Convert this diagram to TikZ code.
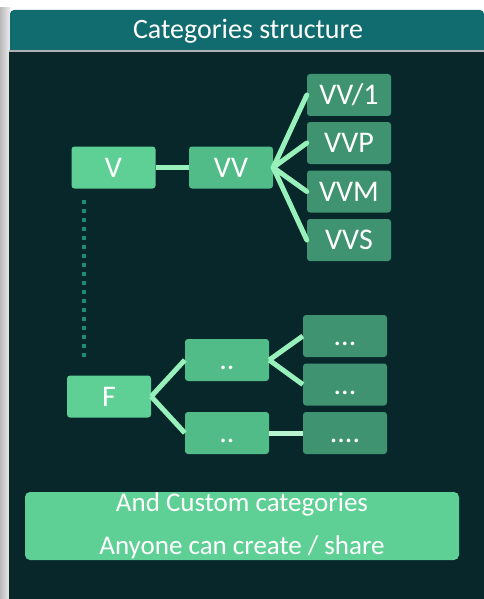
\documentclass[tikz,border=0pt]{standalone}
\usepackage{fontspec}
\setmainfont{Carlito}
\usetikzlibrary{shadings}
\definecolor{panel}{HTML}{07272B}
\definecolor{titlebar}{HTML}{116C6F}
\definecolor{light}{HTML}{5FD095}
\definecolor{mid}{HTML}{52BC88}
\definecolor{deep}{HTML}{3F9370}
\definecolor{link}{HTML}{98F0BA}
\definecolor{dotline}{HTML}{1E8C72}
\newcommand{\dotlabel}[1]{\vphantom{V}#1}
\tikzset{
  box/.style={rounded corners=3pt, minimum width=84pt, minimum height=42pt,
    inner sep=0pt, text=white, font=\fontsize{30}{32}\selectfont},
  lvlone/.style={box, fill=light},
  lvltwo/.style={box, fill=mid},
  lvlthree/.style={box, fill=deep},
  conn/.style={draw=link, line width=5pt},
  caption/.style={text=white, font=\fontsize{28}{30}\selectfont},
  bannertext/.style={text=white, font=\fontsize{27}{29}\selectfont},
}
\begin{document}
\begin{tikzpicture}[x=1pt,y=-1pt]
  \useasboundingbox (0,0) rectangle (484,599);
  % page backdrop and left shadow
  \fill[white] (0,0) rectangle (484,599);
  \shade[left color=gray!55, right color=gray!15] (0,8) rectangle (10,599);
  % title bar and dark panel
  \fill[titlebar, rounded corners=4pt] (10,10) -- (484,10) -- (484,50) -- (10,50) -- cycle;
  \fill[titlebar] (10,30) rectangle (484,50);
  \fill[gray!60] (9,50) rectangle (484,52);
  \fill[panel] (9,52) rectangle (484,599);
  \node[caption] (title) at (248,31) {Categories structure};

  % V branch
  \node[lvlone] (v) at (113.5,167.5) {V};
  \node[lvltwo] (vv) at (231,167.5) {VV};
  \node[lvlthree] (vv1) at (349,95) {VV/1};
  \node[lvlthree] (vvp) at (349,143) {VVP};
  \node[lvlthree] (vvm) at (349,191.5) {VVM};
  \node[lvlthree] (vvs) at (349,240) {VVS};
  \draw[conn] (v.east) -- (vv.west);
  \foreach \c in {vv1,vvp,vvm,vvs}
    \draw[conn, line cap=round] (vv.east) -- (\c.west);

  % dotted link between the two families
  \coordinate (dtop) at (84,200);
  \coordinate (dbot) at (84,359);
  \draw[dotline, line width=4pt, dash pattern=on 4pt off 5pt] (dtop) -- (dbot);

  % F branch
  \node[lvlone] (f) at (109,396.5) {F};
  \node[lvltwo] (fa) at (227,360) {\dotlabel{..}};
  \node[lvltwo] (fb) at (227,433) {\dotlabel{..}};
  \node[lvlthree] (fa1) at (345,336) {\dotlabel{...}};
  \node[lvlthree] (fa2) at (345,384.5) {\dotlabel{...}};
  \node[lvlthree] (fb1) at (345,433) {\dotlabel{....}};
  \draw[conn] (f.east) -- (fa.west);
  \draw[conn] (f.east) -- (fb.west);
  \draw[conn] (fa.east) -- (fa1.west);
  \draw[conn] (fa.east) -- (fa2.west);
  \draw[conn, draw=link!70!white] (fb.east) -- (fb1.west);

  % custom categories banner
  \node[fill=light, rounded corners=5pt, minimum width=434pt, minimum height=68pt,
        inner sep=0pt] (custom) at (242,526) {};
  \node[bannertext] (c1) at (242,504) {And Custom categories};
  \node[bannertext] (c2) at (242,547) {Anyone can create / share};
\end{tikzpicture}
\end{document}
